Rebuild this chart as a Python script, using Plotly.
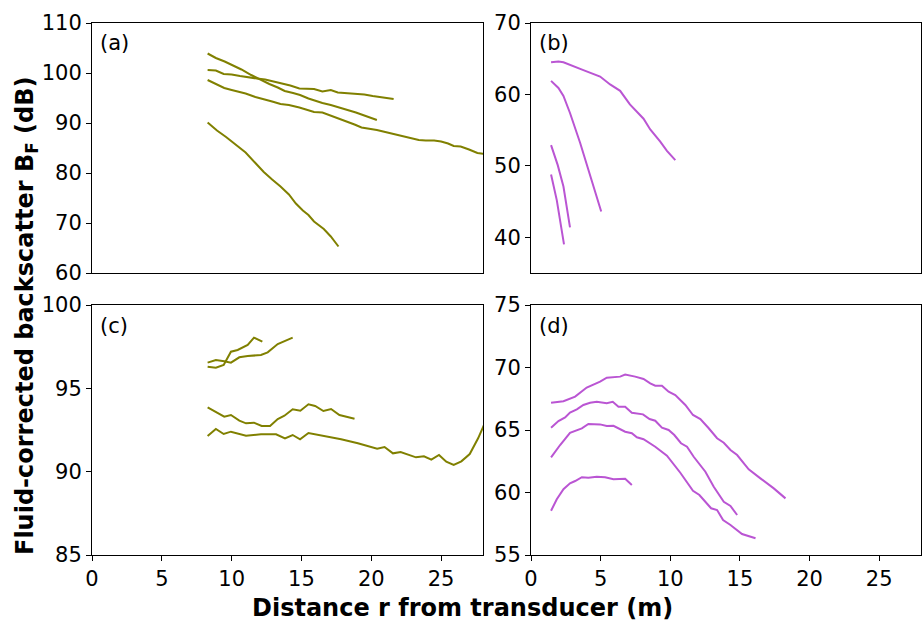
import plotly.graph_objects as go

OLIVE = "#808000"
ORCHID = "#BA55D3"

# ---- Panel (a) ----
a1_r = [8.28, 8.87, 9.5, 10.1, 10.7, 11.4, 12.1, 12.7, 13.3, 13.8, 14.4, 14.9, 15.5, 16.0, 16.5, 17.1, 17.6, 18.3, 18.9, 19.6, 20.4]
a1_b = [103.9, 103.0, 102.3, 101.5, 100.7, 99.6, 98.6, 97.8, 97.1, 96.4, 96.0, 95.6, 94.9, 94.4, 94.0, 93.6, 93.2, 92.7, 92.1, 91.4, 90.6]
a2_r = [8.28, 8.87, 9.43, 10.0, 10.6, 11.2, 11.8, 12.4, 13.0, 13.6, 14.2, 14.85, 15.4, 15.9, 16.5, 17.1, 17.6, 18.3, 18.9, 19.5, 20.1, 20.7, 21.2, 21.6]
a2_b = [100.6, 100.5, 99.8, 99.7, 99.4, 99.1, 98.9, 98.7, 98.3, 97.9, 97.5, 96.9, 96.8, 96.8, 96.3, 96.6, 96.1, 96.0, 95.9, 95.7, 95.4, 95.2, 94.9, 94.8]
a3_r = [8.28, 8.9, 9.47, 10.0, 10.4, 11.0, 11.7, 12.3, 12.9, 13.5, 14.1, 14.85, 15.4, 15.9, 16.5, 17.1, 17.7, 18.3, 18.8, 19.3, 19.8, 20.4, 21.0, 21.6, 22.2, 22.8, 23.4, 23.9, 24.5, 25.0, 25.5, 25.9, 26.4, 27.0, 27.6, 28.1]
a3_b = [98.6, 97.8, 97.0, 96.6, 96.3, 95.9, 95.2, 94.8, 94.3, 93.8, 93.6, 93.1, 92.6, 92.2, 92.1, 91.5, 90.9, 90.3, 89.7, 89.1, 88.9, 88.6, 88.2, 87.8, 87.4, 87.0, 86.6, 86.5, 86.5, 86.3, 85.9, 85.4, 85.3, 84.7, 84.0, 83.8]
a4_r = [8.28, 8.95, 9.6, 10.3, 11.0, 11.7, 12.3, 12.9, 13.5, 14.1, 14.6, 15.1, 15.5, 15.9, 16.6, 17.1, 17.65]
a4_b = [90.1, 88.5, 87.2, 85.7, 84.1, 82.0, 80.2, 78.7, 77.3, 75.7, 73.9, 72.5, 71.6, 70.3, 68.8, 67.3, 65.3]

# ---- Panel (b) ----
b1_r = [1.44, 1.97, 2.33, 2.8, 3.76, 4.96, 5.68, 6.4, 7.1, 8.08, 8.56, 9.28, 9.76, 10.36]
b1_b = [64.5, 64.6, 64.5, 64.1, 63.4, 62.5, 61.4, 60.5, 58.6, 56.6, 55.1, 53.4, 52.1, 50.8]
b2_r = [1.44, 1.97, 2.33, 2.8, 3.53, 4.24, 5.04]
b2_b = [61.9, 60.9, 59.8, 57.4, 53.2, 48.7, 43.6]
b3_r = [1.44, 1.92, 2.33, 2.8]
b3_b = [52.9, 50.1, 47.1, 41.4]
b4_r = [1.44, 1.85, 2.37]
b4_b = [48.8, 45.2, 39.0]

# ---- Panel (c) ----
c1_r = [8.28, 8.87, 9.43, 9.95, 10.43, 11.15, 11.6, 12.2]
c1_b = [96.3, 96.24, 96.4, 97.2, 97.3, 97.6, 98.04, 97.8]
c2_r = [8.28, 8.87, 9.47, 9.95, 10.55, 11.15, 12.1, 12.58, 13.3, 14.37]
c2_b = [96.54, 96.7, 96.62, 96.54, 96.86, 96.94, 97.0, 97.16, 97.66, 98.04]
c3_r = [8.28, 9.47, 9.95, 10.55, 11.03, 11.6, 12.15, 12.75, 13.3, 13.78, 14.37, 14.92, 15.5, 15.98, 16.57, 17.12, 17.72, 18.8]
c3_b = [93.86, 93.3, 93.4, 93.06, 92.9, 92.94, 92.74, 92.74, 93.16, 93.36, 93.74, 93.66, 94.04, 93.94, 93.64, 93.76, 93.4, 93.18]
c4_r = [8.28, 8.87, 9.43, 9.95, 11.03, 12.1, 13.18, 13.82, 14.37, 14.9, 15.5, 16.64, 17.84, 19.04, 20.42, 20.95, 21.55, 22.1, 23.2, 23.77, 24.3, 24.85, 25.37, 25.9, 26.45, 27.05, 27.65, 28.1]
c4_b = [92.14, 92.56, 92.26, 92.4, 92.16, 92.24, 92.24, 92.0, 92.2, 91.94, 92.32, 92.14, 91.94, 91.7, 91.38, 91.48, 91.1, 91.18, 90.86, 90.92, 90.72, 91.0, 90.6, 90.4, 90.62, 91.06, 92.0, 92.86]

# ---- Panel (d) ----
d1_r = [1.44, 2.33, 3.17, 4.0, 4.96, 5.44, 6.4, 6.76, 7.48, 8.08, 8.56, 8.92, 9.4, 9.88, 10.36, 11.08, 11.63, 12.16, 12.76, 13.36, 13.84, 14.32, 14.8, 15.63, 16.47, 17.43, 18.27]
d1_b = [67.18, 67.3, 67.67, 68.4, 68.87, 69.19, 69.27, 69.43, 69.27, 69.08, 68.73, 68.54, 68.54, 68.06, 67.8, 67.0, 66.2, 65.88, 65.14, 64.34, 63.98, 63.4, 63.0, 61.85, 61.13, 60.33, 59.53]
d2_r = [1.44, 1.97, 2.45, 2.8, 3.29, 3.76, 4.24, 4.72, 5.44, 5.87, 6.28, 6.76, 7.24, 8.04, 8.51, 8.92, 9.4, 9.88, 10.29, 10.77, 11.2, 11.68, 12.52, 13.12, 13.84, 14.32, 14.8]
d2_b = [65.18, 65.72, 66.0, 66.4, 66.65, 67.0, 67.18, 67.26, 67.14, 67.26, 66.86, 66.86, 66.38, 66.25, 65.88, 65.74, 65.18, 65.0, 64.6, 63.94, 63.66, 62.86, 61.66, 60.46, 59.26, 58.92, 58.2]
d3_r = [1.44, 2.09, 2.8, 3.65, 4.12, 4.96, 5.44, 5.92, 6.76, 7.24, 7.6, 8.08, 8.92, 9.76, 10.72, 11.63, 12.09, 12.93, 13.36, 13.79, 14.32, 15.15, 16.12]
d3_b = [62.81, 63.8, 64.78, 65.13, 65.48, 65.45, 65.32, 65.34, 64.86, 64.74, 64.42, 64.26, 63.66, 62.94, 61.58, 60.14, 59.8, 58.74, 58.6, 57.8, 57.4, 56.68, 56.34]
d4_r = [1.44, 1.85, 2.33, 2.8, 3.17, 3.65, 4.12, 4.72, 5.32, 5.92, 6.76, 7.24]
d4_b = [58.54, 59.46, 60.26, 60.74, 60.92, 61.22, 61.18, 61.26, 61.22, 61.06, 61.1, 60.6]

x_ticks = [0, 5, 10, 15, 20, 25]
y_ticks_a = [60, 70, 80, 90, 100, 110]
y_ticks_b = [40, 50, 60, 70]
y_ticks_c = [85, 90, 95, 100]
y_ticks_d = [55, 60, 65, 70, 75]

FONT = "DejaVu Sans"
fig = go.Figure()

panels = [
    ("x", "y", OLIVE, [(a1_r, a1_b), (a2_r, a2_b), (a3_r, a3_b), (a4_r, a4_b)]),
    ("x2", "y2", ORCHID, [(b1_r, b1_b), (b2_r, b2_b), (b3_r, b3_b), (b4_r, b4_b)]),
    ("x3", "y3", OLIVE, [(c1_r, c1_b), (c2_r, c2_b), (c3_r, c3_b), (c4_r, c4_b)]),
    ("x4", "y4", ORCHID, [(d1_r, d1_b), (d2_r, d2_b), (d3_r, d3_b), (d4_r, d4_b)]),
]
for xa, ya, col, series in panels:
    for r, b in series:
        fig.add_trace(go.Scatter(x=r, y=b, mode="lines", xaxis=xa, yaxis=ya,
                                 line=dict(color=col, width=2), showlegend=False,
                                 hoverinfo="skip"))

W, H = 923, 621
xl = [92 / W, 483 / W]
xr = [531 / W, 921 / W]
yt = [1 - 273 / H, 1 - 23 / H]
yb = [1 - 555 / H, 1 - 305 / H]

common = dict(showline=True, linecolor="black", linewidth=1, mirror=True,
              showgrid=False, zeroline=False, ticks="outside", ticklen=5,
              tickcolor="black", automargin=False,
              tickfont=dict(family=FONT, size=21, color="black"))

def xaxis(dom, anchor, show):
    d = dict(common)
    d.update(domain=dom, anchor=anchor, range=[0, 28], tickvals=x_ticks,
             showticklabels=show)
    if not show:
        d["ticks"] = ""
    return d

def yaxis(dom, anchor, rng, tv):
    d = dict(common)
    d.update(domain=dom, anchor=anchor, range=rng, tickvals=tv)
    return d

fig.update_layout(
    width=W, height=H,
    margin=dict(l=0, r=0, t=0, b=0, pad=0),
    paper_bgcolor="white", plot_bgcolor="white",
    xaxis=xaxis(xl, "y", False),
    yaxis=yaxis(yt, "x", [60, 110], y_ticks_a),
    xaxis2=xaxis(xr, "y2", False),
    yaxis2=yaxis(yt, "x2", [35, 70], y_ticks_b),
    xaxis3=xaxis(xl, "y3", True),
    yaxis3=yaxis(yb, "x3", [85, 100], y_ticks_c),
    xaxis4=xaxis(xr, "y4", True),
    yaxis4=yaxis(yb, "x4", [55, 75], y_ticks_d),
)

labels = [("(a)", "x", "y"), ("(b)", "x2", "y2"), ("(c)", "x3", "y3"), ("(d)", "x4", "y4")]
for txt, xa, ya in labels:
    fig.add_annotation(text=txt, xref=xa + " domain", yref=ya + " domain",
                       x=0.016, y=0.918, xanchor="left", yanchor="middle",
                       showarrow=False, font=dict(family=FONT, size=21, color="black"))

fig.add_annotation(text="<b>Distance r from transducer (m)</b>", xref="paper", yref="paper",
                   x=463 / W, y=1 - 608 / H, xanchor="center", yanchor="middle",
                   showarrow=False, font=dict(family=FONT, size=24, color="black"))
fig.add_annotation(text="<b>Fluid-corrected backscatter B<sub>F</sub> (dB)</b>", xref="paper", yref="paper",
                   x=26 / W, y=1 - 316 / H, xanchor="center", yanchor="middle", textangle=-90,
                   showarrow=False, font=dict(family=FONT, size=24, color="black"))

fig.write_html("out.html")
